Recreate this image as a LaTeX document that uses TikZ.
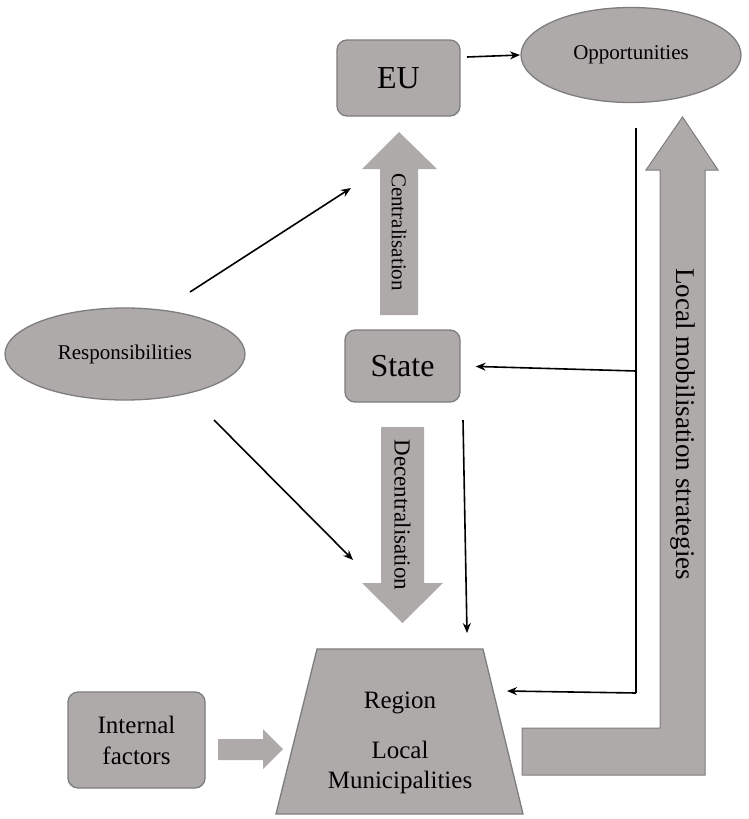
\documentclass[tikz,border=0pt]{standalone}
\usepackage{fontspec}
\setmainfont{Liberation Serif}
\newfontfamily\tnr{Liberation Serif}
\usetikzlibrary{arrows.meta,shapes.geometric}
\definecolor{boxfill}{RGB}{174,170,170}
\definecolor{boxline}{RGB}{125,125,125}
\begin{document}
\begin{tikzpicture}[x=1pt,y=-1pt,
  box/.style={draw=boxline,line width=1.3pt,fill=boxfill,rounded corners=10pt,inner sep=0pt},
  oval/.style={ellipse,draw=boxline,line width=1.3pt,fill=boxfill,inner sep=0pt},
  conn/.style={line width=1.6pt,-{Stealth[length=10pt,width=8pt]}},
  plainline/.style={line width=1.6pt},
  blockarrow/.style={fill=boxfill},
  bigarrow/.style={fill=boxfill,draw=boxline,line width=1pt},
  lbl/.style={inner sep=0pt,text=black}
  ]
\useasboundingbox (0,0) rectangle (748,819);

% block arrows
\path[blockarrow] (380,315)--(380,169)--(362,169)--(399,132)--(437,169)--(418,169)--(418,315)--cycle;
\node[lbl,rotate=-90,font=\tnr\fontsize{21}{24}\selectfont] (cent) at (399,232) {Centralisation};
\path[blockarrow] (381,427)--(424,427)--(424,583)--(443,583)--(402.5,623)--(362,583)--(381,583)--cycle;
\node[lbl,rotate=-90,font=\tnr\fontsize{23}{26}\selectfont] (decent) at (402.5,515) {Decentralisation};
\path[blockarrow] (218,739)--(263,739)--(263,729)--(283,749)--(263,769)--(263,760)--(218,760)--cycle;
\path[bigarrow] (522,728)--(660,728)--(660,170)--(646,170)--(682.5,117)--(718,170)--(705,170)--(705,775)--(522,775)--cycle;
\node[lbl,rotate=-90,font=\tnr\fontsize{27}{30}\selectfont] (lms) at (682.5,424) {Local mobilisation strategies};

% nodes
\node[box,minimum width=123pt,minimum height=76pt,font=\tnr\fontsize{32}{36}\selectfont] (eu) at (398.5,78) {EU};
\node[oval,minimum width=220pt,minimum height=95pt,font=\tnr\fontsize{21}{24}\selectfont] (opp) at (631,55) {Opportunities};
\node[oval,minimum width=240pt,minimum height=92pt,font=\tnr\fontsize{21}{24}\selectfont] (resp) at (125,354) {Responsibilities};
\node[box,minimum width=115pt,minimum height=72pt,font=\tnr\fontsize{32}{36}\selectfont] (state) at (402.5,366) {State};
\node[box,minimum width=137pt,minimum height=96pt,align=center,font=\tnr\fontsize{25}{31}\selectfont] (intf) at (136.5,740) {Internal\\factors};

% trapezoid
\path[fill=boxfill,draw=boxline,line width=1.3pt] (276,814)--(317,649)--(483,649)--(523,814)--cycle;
\node[lbl,font=\tnr\fontsize{25}{30}\selectfont] (region) at (400,703) {Region};
\node[lbl,align=center,font=\tnr\fontsize{25}{30}\selectfont] (local) at (400,767) {Local\\Municipalities};

% connector coordinates
\coordinate (euout) at (467,57);
\coordinate (oppin) at (520,55);
\coordinate (r1s) at (190,292);
\coordinate (r1e) at (351,188);
\coordinate (r2s) at (214,420);
\coordinate (r2e) at (353,560);
\coordinate (sts) at (463,420);
\coordinate (ste) at (467,633);
\coordinate (vtop) at (636,128);
\coordinate (vmid) at (636,371);
\coordinate (vbot) at (636,693);
\coordinate (regin) at (507,691);

\draw[conn] (euout) -- (oppin);
\draw[conn] (r1s) -- (r1e);
\draw[conn] (r2s) -- (r2e);
\draw[conn] (sts) -- (ste);
\draw[plainline] (vtop) -- (vbot);
\draw[conn,shorten >=15pt] (vmid) -- (state.east);
\draw[conn] (vbot) -- (regin);
\end{tikzpicture}
\end{document}
